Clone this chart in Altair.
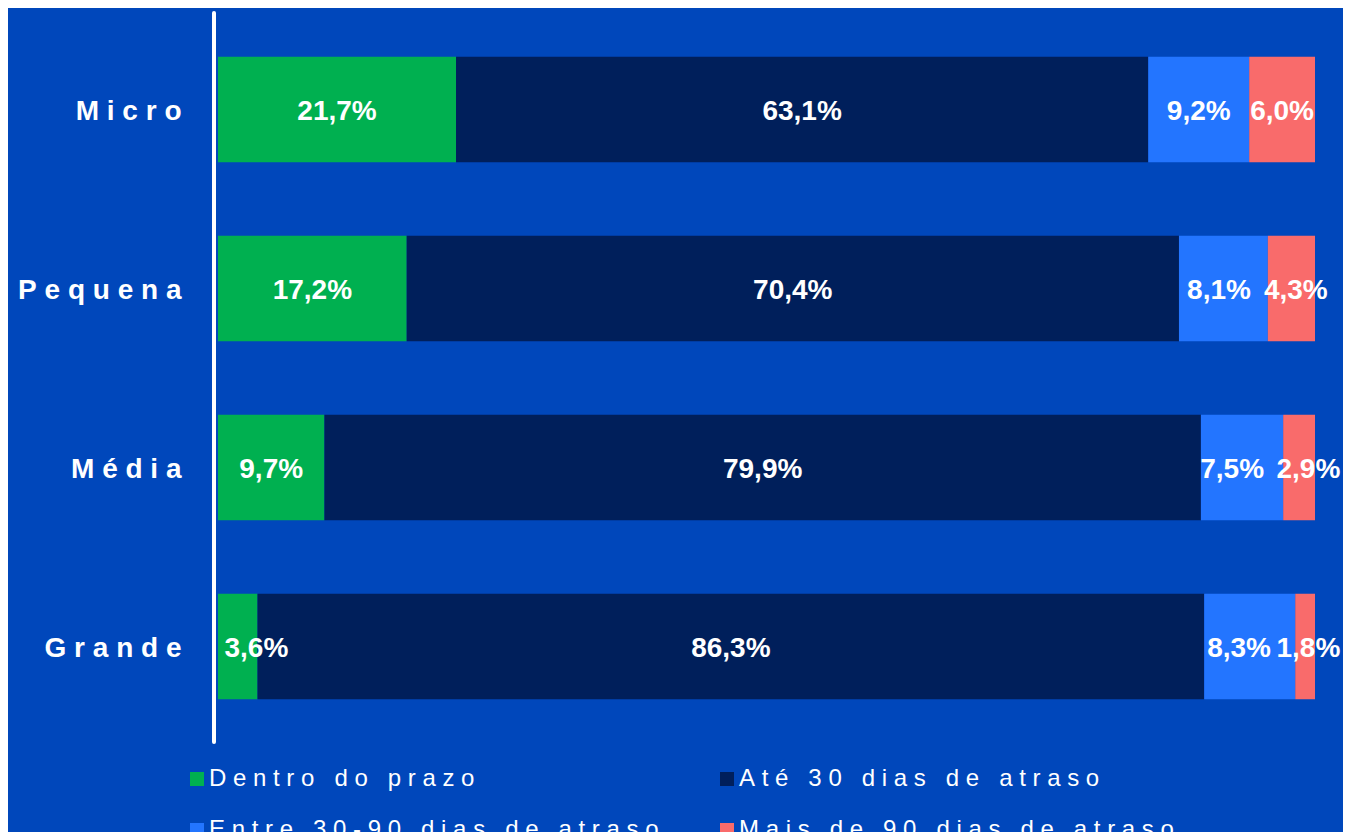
import altair as alt
import pandas as pd

categories = ["Micro", "Pequena", "Média", "Grande"]
series = ["Dentro do prazo", "Até 30 dias de atraso", "Entre 30-90 dias de atraso", "Mais de 90 dias de atraso"]
dentro = [21.7, 17.2, 9.7, 3.6]
ate30 = [63.1, 70.4, 79.9, 86.3]
entre = [9.2, 8.1, 7.5, 8.3]
mais = [6.0, 4.3, 2.9, 1.8]
colors = ["#00B050", "#001F5B", "#2375FF", "#F96B6B"]

rows = []
for si, (s, vals) in enumerate(zip(series, [dentro, ate30, entre, mais])):
    for c, v in zip(categories, vals):
        rows.append({"cat": c, "serie": s, "ord": si, "v": v})
df = pd.DataFrame(rows)

NB = "\u00a0"
spaced = "join(split(datum.label, ''), '" + NB + "')"

base = alt.Chart(df).transform_stack(
    stack="v", groupby=["cat"], as_=["x0", "x1"], sort=[alt.SortField("ord", order="ascending")]
).transform_calculate(
    mid="(datum.x0 + datum.x1) / 2",
    tail="datum.ord >= 2 ? datum.v : 0",
    lab="replace(format(datum.v, '.1f'), '.', ',') + '%'"
).transform_joinaggregate(
    tailsum="sum(tail)", groupby=["cat"]
).transform_calculate(
    shift="max(0, (7.0 - datum.tailsum / 2) / 2)"
).transform_calculate(
    pos="datum.ord == 0 ? max(datum.mid, 3.5) : datum.ord == 2 ? datum.mid - datum.shift : datum.ord == 3 ? min(datum.mid + datum.shift, 99.4) : datum.mid"
)

yenc = alt.Y(
    "cat:N", sort=categories, title=None,
    scale=alt.Scale(paddingInner=0.41, paddingOuter=0.205),
    axis=alt.Axis(
        domain=False, ticks=False, labelColor="white", labelFontSize=28,
        labelFontWeight="bold", labelFont="Liberation Sans", labelPadding=37,
        labelOffset=2, labelExpr=spaced
    ),
)
xscale = alt.Scale(domain=[0, 100], nice=False, zero=True)

bars = base.mark_bar(strokeWidth=0).encode(
    y=yenc,
    x=alt.X("x0:Q", scale=xscale, axis=None),
    x2="x1:Q",
    color=alt.Color(
        "serie:N", sort=series,
        scale=alt.Scale(domain=series, range=colors),
        legend=alt.Legend(
            title=None, orient="none", legendX=-33, legendY=747, columns=2,
            direction="horizontal",
            symbolType="square", symbolSize=196, symbolStrokeWidth=0,
            labelOffset=0, labelColor="white", labelFontSize=24,
            labelFont="Liberation Sans", columnPadding=56, rowPadding=27,
            labelLimit=1000, labelExpr=spaced
        ),
    ),
    order=alt.Order("ord:Q"),
)

texts = base.mark_text(
    color="white", fontSize=28, fontWeight="bold", font="Liberation Sans",
    align="center", baseline="middle", dy=2
).encode(
    y=alt.Y("cat:N", sort=categories),
    x=alt.X("pos:Q", scale=xscale),
    text="lab:N",
)

axis_line = alt.Chart(pd.DataFrame({"a": [0]})).mark_rule(
    color="white", strokeWidth=4, strokeCap="round"
).encode(x=alt.value(-4), y=alt.value(-7), y2=alt.value(722))

chart = alt.layer(bars, texts, axis_line).properties(
    width=1097, height=716,
    background="#0047BB",
    padding={"left": 210, "top": 12, "right": 28, "bottom": 96},
    autosize=alt.AutoSizeParams(type="none"),
).configure_view(stroke=None)

chart.save("out.html", embed_options={"renderer": "svg", "actions": False})
